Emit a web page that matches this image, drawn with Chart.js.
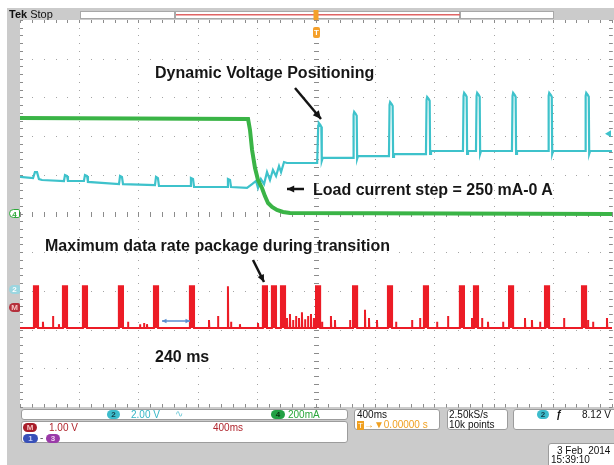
<!DOCTYPE html>
<html>
<head>
<meta charset="utf-8">
<script src="https://cdn.jsdelivr.net/npm/chart.js@4.4.0/dist/chart.umd.min.js"></script>
<style>
    body { margin: 0; background: #fff; }
    #wrap { position: relative; width: 614px; height: 465px; overflow: hidden; font-family: "Liberation Sans", Arial, sans-serif; }
    #scope { position: absolute; left: 0; top: 0; }
    .note { position: absolute; font-size: 16px; font-weight: bold; line-height: 16px; color: #161616; white-space: nowrap; }
    .ro { position: absolute; font-size: 10px; line-height: 10px; white-space: nowrap; }
    .box { position: absolute; box-sizing: border-box; background: #fff; border: 1px solid #9c9c9c; border-radius: 3px; }
    .badge { position: absolute; height: 9px; border-radius: 5px; font-size: 8px; line-height: 9px; text-align: center; font-weight: bold; }
    .mark { position: absolute; width: 11px; height: 9px; border-radius: 5px 2px 2px 5px; font-size: 8px; line-height: 9px; text-align: center; font-weight: bold; box-sizing: border-box; }
</style>
</head>
<body>
<div id="wrap">
    <canvas id="scope" width="614" height="465"></canvas>

    <!-- header -->
    <div class="ro" style="left:9px;top:9px;font-size:11px;line-height:11px;color:#111"><b>Tek</b> Stop</div>
    <div class="badge" style="left:313px;top:27px;width:7px;height:11px;line-height:11px;border-radius:2px;background:#f5a02a;color:#fff">T</div>

    <!-- channel markers -->
    <div class="mark" style="left:9px;top:209px;background:#fff;border:1px solid #2ea83a;color:#2ea83a">4</div>
    <div class="mark" style="left:9px;top:285px;background:#9cd6e0;color:#fff">2</div>
    <div class="mark" style="left:9px;top:303px;background:#b4303c;color:#f4c4c4">M</div>

    <!-- annotations -->
    <div class="note" style="left:155px;top:65px">Dynamic Voltage Positioning</div>
    <div class="note" style="left:313px;top:182px">Load current step = 250 mA-0 A</div>
    <div class="note" style="left:45px;top:238px">Maximum data rate package during transition</div>
    <div class="note" style="left:155px;top:349px">240 ms</div>

    <!-- readout boxes -->
    <div class="box" style="left:21px;top:409px;width:327px;height:11px"></div>
    <div class="box" style="left:21px;top:421px;width:327px;height:22px"></div>
    <div class="box" style="left:354px;top:409px;width:86px;height:21px"></div>
    <div class="box" style="left:447px;top:409px;width:61px;height:21px"></div>
    <div class="box" style="left:513px;top:409px;width:120px;height:21px"></div>
    <div class="box" style="left:548px;top:443px;width:90px;height:30px"></div>

    <div class="badge" style="left:107px;top:410px;width:13px;background:#3cbccc;color:#15404a">2</div>
    <div class="ro" style="left:131px;top:410px;color:#36b6c6">2.00 V</div>
    <div class="ro" style="left:175px;top:409px;color:#6cc8d6">&#8767;</div>
    <div class="badge" style="left:271px;top:410px;width:14px;background:#22a044;color:#0b3312">4</div>
    <div class="ro" style="left:288px;top:410px;color:#2aa63a">200mA</div>

    <div class="badge" style="left:23px;top:423px;width:14px;background:#a81e2a;color:#f4c0c0">M</div>
    <div class="ro" style="left:49px;top:423px;color:#b0262e">1.00 V</div>
    <div class="ro" style="left:213px;top:423px;color:#b0262e">400ms</div>
    <div class="badge" style="left:23px;top:434px;width:15px;background:#3850b8;color:#c8d0f8">1</div>
    <div class="ro" style="left:40px;top:433px;color:#555">-</div>
    <div class="badge" style="left:46px;top:434px;width:14px;background:#9a3aa8;color:#f0d0f0">3</div>

    <div class="ro" style="left:357px;top:410px;color:#111">400ms</div>
    <div class="ro" style="left:357px;top:420px;color:#f0a020"><span style="background:#f0a020;color:#fff;font-size:8px;padding:0 1px">T</span>&#8594;&#9660;0.00000 s</div>
    <div class="ro" style="left:449px;top:410px;color:#111">2.50kS/s</div>
    <div class="ro" style="left:449px;top:420px;color:#111">10k points</div>
    <div class="badge" style="left:537px;top:410px;width:12px;background:#3cbccc;color:#15404a">2</div>
    <div class="ro" style="left:556px;top:410px;color:#111;font-style:italic;font-weight:bold">&#402;</div>
    <div class="ro" style="left:582px;top:410px;color:#111">8.12 V</div>
    <div class="ro" style="left:557px;top:446px;color:#111">3 Feb&nbsp; 2014</div>
    <div class="ro" style="left:551px;top:455px;color:#111">15:39:10</div>
</div>

<script>
// Horizontal: 400 ms/div, 10 divisions, trigger at centre (s)
const timeMin = -2.0;
const timeMax = 2.0;
const timePerDiv = 0.4;

// Vertical settings: volts (or mA) per division and marker offset in divisions
const ch4PerDiv = 200, ch4Offset = 0;      // load current, mA
const ch2PerDiv = 2.0, ch2Offset = -2;     // output voltage, V
const mathPerDiv = 1.0, mathOffset = -2.42; // math M, V

// Ch4 load current (mA) - step from ~250 mA to 0 A
const ch4Time = [-2.000, -0.459, -0.446, -0.432, -0.412, -0.392, -0.365, -0.345, -0.324, -0.297, -0.264, -0.223, -0.176, 2.000];
const ch4Current = [494, 488, 432, 328, 235, 173, 132, 90, 54, 34, 18, 8, 3, -3];

// Ch2 output voltage before the trigger (V)
const ch2Time = [-2.000, -1.912, -1.899, -1.885, -1.872, -1.851, -1.703, -1.696, -1.682, -1.676,
    -1.568, -1.561, -1.547, -1.541, -1.331, -1.324, -1.311, -1.304, -1.088, -1.081,
    -1.068, -1.061, -0.851, -0.845, -0.831, -0.824, -0.601, -0.595, -0.581, -0.574,
    -0.466, -0.432, -0.405, -0.392, -0.372, -0.351, -0.331, -0.311, -0.291, -0.270,
    -0.250, -0.236, -0.216, -0.196, 0.008];
const ch2Volt = [5.89, 5.83, 6.14, 6.14, 5.78, 5.73, 5.68, 5.99, 5.94, 5.68,
    5.68, 5.99, 5.94, 5.63, 5.52, 5.94, 5.89, 5.52, 5.47, 5.89,
    5.83, 5.42, 5.42, 5.83, 5.78, 5.37, 5.37, 5.78, 5.73, 5.37,
    5.32, 5.52, 5.68, 5.32, 5.78, 5.52, 6.14, 5.73, 6.25, 5.94,
    6.45, 6.14, 6.66, 6.61, 6.61];

// Ch2 DVP spikes after the trigger: start (s), peak (V), level after spike (V)
const ch2SpikeTime = [0.011, 0.250, 0.493, 0.743, 0.993, 1.081, 1.324, 1.568, 1.818];
const ch2SpikePeak = [8.68, 9.25, 9.76, 10.02, 10.23, 10.23, 10.23, 10.23, 10.23];
const ch2SpikeLevel = [6.87, 6.97, 7.07, 7.23, 7.23, 7.23, 7.23, 7.23, 7.23];

// Math trace: data packages (centre, s) and small glitches (s, V)
const mathBase = -0.54;
const mathHigh = 0.54;
const mathPulseWidth = 0.028;
const mathPulseTime = [-1.892, -1.696, -1.561, -1.318, -1.081, -0.838, -0.345, -0.284, -0.223,
    0.014, 0.264, 0.500, 0.743, 0.986, 1.081, 1.318, 1.561, 1.811];
const mathSpikeTime = [-1.845, -1.777, -1.737, -1.270, -1.189, -1.162, -1.142, -0.723, -0.662, -0.595,
    -0.574, -0.514, -0.392, -0.196, -0.176, -0.155, -0.135, -0.115, -0.095, -0.074,
    -0.054, -0.034, -0.014, 0.041, 0.101, 0.128, 0.230, 0.331, 0.358, 0.412,
    0.541, 0.649, 0.703, 0.818, 0.892, 1.054, 1.122, 1.162, 1.264, 1.412,
    1.459, 1.514, 1.547, 1.676, 1.838, 1.872, 1.966];
const mathSpikeHeight = [0.16, 0.31, 0.10, 0.16, 0.10, 0.13, 0.10, 0.21, 0.31, 1.08,
    0.16, 0.10, 0.13, 0.26, 0.36, 0.21, 0.31, 0.26, 0.41, 0.23,
    0.31, 0.36, 0.26, 0.16, 0.31, 0.21, 0.21, 0.47, 0.26, 0.21,
    0.16, 0.21, 0.26, 0.16, 0.31, 0.26, 0.26, 0.16, 0.16, 0.26,
    0.21, 0.16, 0.31, 0.26, 0.21, 0.16, 0.26];

// Trigger level on ch2 (V)
const triggerLevel = 8.12;

// Colours
const green = '#3ab446';
const cyan = '#3ec2cb';
const red = '#ec1c26';
const frameGray = '#cbcbcb';

// Convert a reading to screen divisions
function toDiv(value, perDiv, offset) {
    return value / perDiv + offset;
}

// Build ch4 points
function buildCh4() {
    return ch4Time.map((t, i) => ({ x: t, y: toDiv(ch4Current[i], ch4PerDiv, ch4Offset) }));
}

// Build ch2 points: pre-trigger readings followed by the DVP spikes
function buildCh2() {
    const pts = ch2Time.map((t, i) => ({ x: t, y: ch2Volt[i] }));
    let level = ch2Volt[ch2Volt.length - 1];
    ch2SpikeTime.forEach((t0, i) => {
        const peak = ch2SpikePeak[i];
        const after = ch2SpikeLevel[i];
        pts.push({ x: t0, y: level });
        pts.push({ x: t0 + 0.004, y: peak - 0.15 });
        pts.push({ x: t0 + 0.008, y: peak });
        pts.push({ x: t0 + 0.018, y: peak - 0.1 });
        pts.push({ x: t0 + 0.025, y: peak - 0.2 });
        pts.push({ x: t0 + 0.028, y: after - 0.15 });
        pts.push({ x: t0 + 0.034, y: after });
        level = after;
    });
    pts.push({ x: timeMax, y: level });
    return pts.map(p => ({ x: p.x, y: toDiv(p.y, ch2PerDiv, ch2Offset) }));
}

// Build math points from pulses and glitches
function buildMath() {
    const events = [];
    mathPulseTime.forEach(t => events.push({ t, kind: 'pulse' }));
    mathSpikeTime.forEach((t, i) => events.push({ t, kind: 'spike', h: mathSpikeHeight[i] }));
    events.sort((a, b) => a.t - b.t);

    const pts = [{ x: timeMin, y: mathBase }];
    events.forEach(e => {
        if (e.kind === 'pulse') {
            const a = e.t - mathPulseWidth / 2;
            const b = e.t + mathPulseWidth / 2;
            pts.push({ x: a, y: mathBase }, { x: a, y: mathHigh }, { x: b, y: mathHigh }, { x: b, y: mathBase });
        } else {
            pts.push({ x: e.t, y: mathBase }, { x: e.t, y: mathBase + e.h }, { x: e.t + 0.002, y: mathBase });
        }
    });
    pts.push({ x: timeMax, y: mathBase });
    return pts.map(p => ({ x: p.x, y: toDiv(p.y, mathPerDiv, mathOffset) }));
}

// Arrow helper
function drawArrow(ctx, x1, y1, x2, y2, color, width, head, both) {
    ctx.save();
    ctx.strokeStyle = color;
    ctx.fillStyle = color;
    ctx.lineWidth = width;
    ctx.beginPath();
    ctx.moveTo(x1, y1);
    ctx.lineTo(x2, y2);
    ctx.stroke();
    const tip = (xa, ya, xb, yb) => {
        const ang = Math.atan2(yb - ya, xb - xa);
        ctx.beginPath();
        ctx.moveTo(xb, yb);
        ctx.lineTo(xb - head * Math.cos(ang - 0.45), yb - head * Math.sin(ang - 0.45));
        ctx.lineTo(xb - head * Math.cos(ang + 0.45), yb - head * Math.sin(ang + 0.45));
        ctx.closePath();
        ctx.fill();
    };
    tip(x1, y1, x2, y2);
    if (both) tip(x2, y2, x1, y1);
    ctx.restore();
}

// Scope frame and graticule, drawn from the scales
const graticule = {
    id: 'graticule',
    beforeDraw(chart) {
        const { ctx, chartArea: a, scales: { x, y } } = chart;
        ctx.save();
        ctx.fillStyle = '#fff';
        ctx.fillRect(0, 0, chart.width, chart.height);

        // grey frame
        ctx.fillStyle = frameGray;
        ctx.fillRect(7, 8, chart.width - 7, a.top - 8);
        ctx.fillRect(7, 8, a.left - 7, chart.height - 8);
        ctx.fillRect(7, a.bottom, chart.width - 7, chart.height - a.bottom);

        // header boxes
        ctx.fillStyle = '#fff';
        ctx.strokeStyle = '#a8a8a8';
        ctx.lineWidth = 1;
        [[80, 95], [175, 285], [460, 94]].forEach(([bx, bw]) => {
            ctx.fillRect(bx, 11, bw, 8);
            ctx.strokeRect(bx + 0.5, 11.5, bw - 1, 7);
        });
        ctx.fillStyle = '#e06464';
        ctx.fillRect(176, 14, 284, 1.5);

        // graticule dots
        const xMinor = timePerDiv / 5;
        ctx.fillStyle = '#a4a4a4';
        for (let i = 0; i <= 10; i++) {
            const px = Math.round(x.getPixelForValue(timeMin + i * timePerDiv));
            for (let j = 0; j <= 50; j++) {
                ctx.fillRect(px, Math.round(y.getPixelForValue(-5 + j * 0.2)), 1, 1);
            }
        }
        for (let j = 0; j <= 10; j++) {
            const py = Math.round(y.getPixelForValue(-5 + j));
            for (let i = 0; i <= 50; i++) {
                ctx.fillRect(Math.round(x.getPixelForValue(timeMin + i * xMinor)), py, 1, 1);
            }
        }

        // centre cross and edge ticks
        ctx.fillStyle = '#8c8c8c';
        const cx = Math.round(x.getPixelForValue(0));
        const cy = Math.round(y.getPixelForValue(0));
        for (let j = 0; j <= 50; j++) {
            const py = Math.round(y.getPixelForValue(-5 + j * 0.2));
            ctx.fillRect(cx - 2, py, 5, 1);
            ctx.fillRect(a.left, py, 3, 1);
            ctx.fillRect(a.right - 3, py, 3, 1);
        }
        for (let i = 0; i <= 50; i++) {
            const px = Math.round(x.getPixelForValue(timeMin + i * xMinor));
            ctx.fillRect(px, cy - 2, 1, 5);
            ctx.fillRect(px, a.top, 1, 3);
            ctx.fillRect(px, a.bottom - 3, 1, 3);
        }
        ctx.restore();
    },
    afterDatasetsDraw(chart) {
        const { ctx, scales: { x, y } } = chart;
        ctx.save();
        // trigger position marker in the header
        const tx = x.getPixelForValue(0);
        ctx.fillStyle = '#f5a02a';
        ctx.fillRect(tx - 2.5, 10, 5, 10);

        // trigger level marker on the right edge
        const ty = y.getPixelForValue(toDiv(triggerLevel, ch2PerDiv, ch2Offset));
        ctx.fillStyle = cyan;
        ctx.beginPath();
        ctx.moveTo(605, ty);
        ctx.lineTo(611, ty - 3.5);
        ctx.lineTo(611, ty + 3.5);
        ctx.closePath();
        ctx.fill();
        ctx.restore();

        // annotation arrows
        drawArrow(ctx, 295, 88, 321, 119, '#141414', 2.5, 9, false);
        drawArrow(ctx, 304, 189, 287, 189, '#141414', 2.5, 8, false);
        drawArrow(ctx, 253, 260, 264, 282, '#141414', 2.5, 8, false);
        drawArrow(ctx, 162, 321, 190, 321, '#5a8ed0', 1.5, 5, true);
    }
};

document.addEventListener('DOMContentLoaded', () => {
    const ctx = document.getElementById('scope').getContext('2d');
    window.scopeChart = new Chart(ctx, {
        type: 'line',
        data: {
            datasets: [
                {
                    label: 'Ch4 load current',
                    data: buildCh4(),
                    borderColor: green,
                    borderWidth: 4,
                    pointRadius: 0,
                    fill: false
                },
                {
                    label: 'Ch2 output voltage',
                    data: buildCh2(),
                    borderColor: cyan,
                    borderWidth: 2.2,
                    pointRadius: 0,
                    fill: false
                },
                {
                    label: 'Math',
                    data: buildMath(),
                    borderColor: red,
                    backgroundColor: red,
                    borderWidth: 2,
                    pointRadius: 0,
                    fill: { value: toDiv(mathBase, mathPerDiv, mathOffset) }
                }
            ]
        },
        options: {
            responsive: false,
            animation: false,
            events: [],
            layout: { padding: { left: 20, right: 2, top: 20, bottom: 58 } },
            elements: { line: { tension: 0 } },
            scales: {
                x: { type: 'linear', min: timeMin, max: timeMax, display: false },
                y: { type: 'linear', min: -5, max: 5, display: false }
            },
            plugins: {
                legend: { display: false },
                tooltip: { enabled: false }
            }
        },
        plugins: [graticule]
    });
});
</script>
</body>
</html>
